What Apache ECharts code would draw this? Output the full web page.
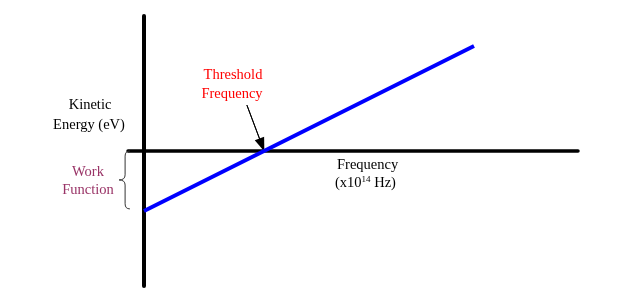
<!DOCTYPE html>
<html><head><meta charset="utf-8">
<script src="https://cdn.jsdelivr.net/npm/echarts@6/dist/echarts.min.js"></script>
<style>html,body{margin:0;padding:0;background:#fff}#c{width:627px;height:306px}</style>
</head><body><div id="c"></div>
<script>
// Data (frequency in x10^14 Hz, kinetic energy in eV)
const frequency = [0, 11];
const kineticEnergy = [-2, 3.5];
const thresholdFrequency = 4;
const workFunction = -2;
const arrowFrom = [3.43, 1.53];
const arrowTo = [3.93, 0.2];

const chart = echarts.init(document.getElementById('c'));
const serif = '"Liberation Serif", "Times New Roman", serif';
const fs = 14.5;

// brace (annotation) spanning the work function, in data coordinates
const braceTopY = 0, braceBotY = workFunction + 0.07, braceMidY = (braceTopY + braceBotY) / 2;
const bxOuter = -0.47, bxInner = -0.63, bxTip = -0.83, bd = 0.17;

chart.setOption({
  animation: false,
  grid: { left: 128, right: 49, top: 16, bottom: 20 },
  xAxis: {
    type: 'value', min: -0.5333, max: 14.4667,
    axisLine: { onZero: true, lineStyle: { color: '#000', width: 3.5 } },
    axisTick: { show: false }, axisLabel: { show: false }, splitLine: { show: false }
  },
  yAxis: {
    type: 'value', min: -4.5, max: 4.5,
    axisLine: { onZero: true, lineStyle: { color: '#000', width: 4 } },
    axisTick: { show: false }, axisLabel: { show: false }, splitLine: { show: false }
  },
  series: [
    {
      type: 'line', symbol: 'none', z: 5,
      data: frequency.map((f, i) => [f, kineticEnergy[i]]),
      lineStyle: { color: '#0000ff', width: 4 }
    },
    {
      type: 'line', symbol: 'none', clip: false, z: 6,
      data: [arrowFrom, arrowTo],
      lineStyle: { color: '#000', width: 1 },
      markLine: {
        silent: true, symbol: ['none', 'triangle'], symbolSize: [10, 14],
        lineStyle: { color: '#000', width: 1, type: 'solid' }, label: { show: false },
        data: [[{ coord: arrowFrom }, { coord: arrowTo }]]
      }
    },
    {
      type: 'custom', clip: false, z: 6, silent: true,
      data: [[0, 0]],
      renderItem: function (params, api) {
        const P = (x, y) => api.coord([x, y]);
        const a = P(bxOuter, braceTopY), b = P(bxInner, braceTopY), c = P(bxInner, braceTopY - bd);
        const d = P(bxInner, braceMidY + bd), e = P(bxInner, braceMidY), f = P(bxTip, braceMidY);
        const g = P(bxInner, braceMidY - bd), h = P(bxInner, braceBotY + bd), i = P(bxInner, braceBotY), j = P(bxOuter, braceBotY);
        const path = 'M' + a + 'Q' + b + ' ' + c + 'L' + d + 'Q' + e + ' ' + f + 'Q' + e + ' ' + g + 'L' + h + 'Q' + i + ' ' + j;
        return {
          type: 'path',
          shape: { pathData: path.replace(/,/g, ' ') },
          style: { stroke: '#333', lineWidth: 1, fill: 'none' }
        };
      }
    }
  ],
  graphic: [
    { type: 'text', x: 90, y: 105, style: { text: 'Kinetic', font: fs + 'px ' + serif, fill: '#000', align: 'center', verticalAlign: 'middle' } },
    { type: 'text', x: 89, y: 125, style: { text: 'Energy (eV)', font: fs + 'px ' + serif, fill: '#000', align: 'center', verticalAlign: 'middle' } },
    { type: 'text', x: 88, y: 172, style: { text: 'Work', font: fs + 'px ' + serif, fill: '#993366', align: 'center', verticalAlign: 'middle' } },
    { type: 'text', x: 88, y: 190, style: { text: 'Function', font: fs + 'px ' + serif, fill: '#993366', align: 'center', verticalAlign: 'middle' } },
    { type: 'text', x: 233, y: 75, style: { text: 'Threshold', font: fs + 'px ' + serif, fill: '#ff0000', align: 'center', verticalAlign: 'middle' } },
    { type: 'text', x: 232, y: 94, style: { text: 'Frequency', font: fs + 'px ' + serif, fill: '#ff0000', align: 'center', verticalAlign: 'middle' } },
    { type: 'text', x: 337, y: 165, style: { text: 'Frequency', font: fs + 'px ' + serif, fill: '#000', align: 'left', verticalAlign: 'middle' } },
    { type: 'text', x: 335, y: 183, style: {
        text: '{a|(x10}{s|14}{a| Hz)}', align: 'left', verticalAlign: 'middle',
        rich: {
          a: { fontFamily: serif, fontSize: fs, fill: '#000' },
          s: { fontFamily: serif, fontSize: 9, fill: '#000', padding: [0, 0, 7, 0] }
        }
    } }
  ]
});
</script></body></html>
